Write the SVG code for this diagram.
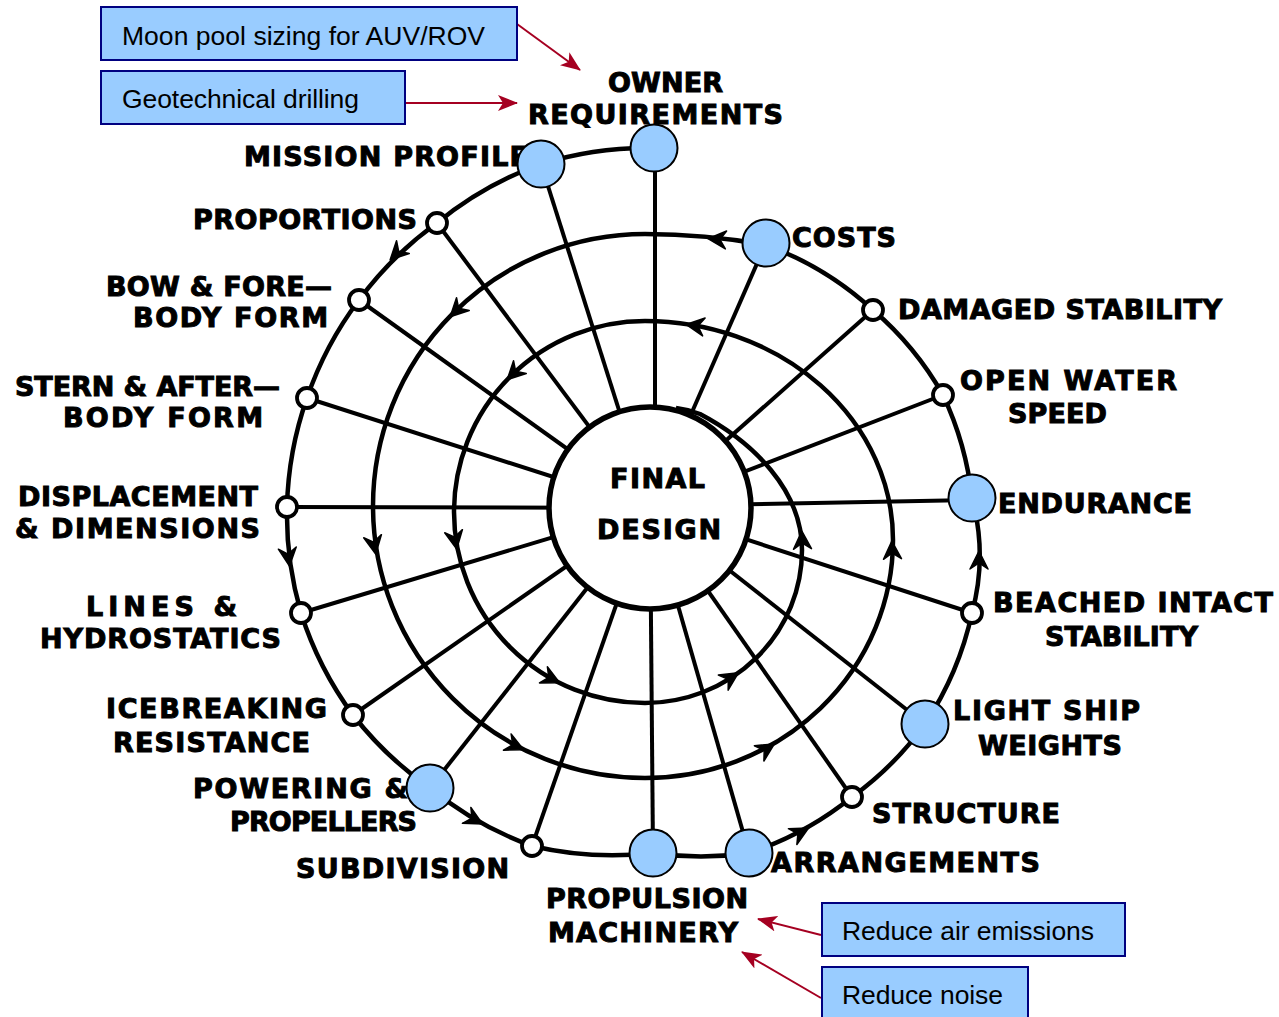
<svg xmlns="http://www.w3.org/2000/svg" xmlns:xlink="http://www.w3.org/1999/xlink" width="1279" height="1017" viewBox="0 0 1279 1017">
<style>
.lbl{font-family:"DejaVu Sans","Liberation Sans",sans-serif;font-weight:bold;font-size:27px;fill:#000;stroke:#000;stroke-width:1;lengthAdjust:spacing}
.co{font-family:"Liberation Sans",Arial,sans-serif;font-size:26.5px;fill:#000}
.box{fill:#99ccff;stroke:#000080;stroke-width:2}
.spoke{stroke:#000;stroke-width:4;fill:none}
.spiral{stroke:#000;stroke-width:4.5;fill:none;stroke-linejoin:round}
.big{fill:#99ccff;stroke:#000;stroke-width:2}
.small{fill:#fff;stroke:#000;stroke-width:3.8}
.red{stroke:#a50021;stroke-width:2;fill:none}
</style>
<defs>
<path id="ah" d="M4,0 L-14,-9 L-8,0 L-14,9 Z" fill="#000" stroke="#000" stroke-width="1.5" stroke-linejoin="round"/>
<marker id="redArrow" markerUnits="userSpaceOnUse" markerWidth="20" markerHeight="16" refX="19" refY="8" orient="auto">
<path d="M0,0 L20,8 L0,16 L5,8 Z" fill="#a50021"/>
</marker>
</defs>
<rect width="1279" height="1017" fill="#fff"/>

<g id="connectors">
<line class="spoke" x1="655" y1="148" x2="655" y2="500"/>
<line class="spoke" x1="541" y1="164" x2="650" y2="508"/>
<line class="spoke" x1="437" y1="223" x2="650" y2="508"/>
<line class="spoke" x1="359" y1="300" x2="650" y2="508"/>
<line class="spoke" x1="307" y1="398" x2="650" y2="508"/>
<line class="spoke" x1="287" y1="507" x2="650" y2="508"/>
<line class="spoke" x1="301" y1="613" x2="650" y2="508"/>
<line class="spoke" x1="353" y1="715" x2="650" y2="508"/>
<line class="spoke" x1="430" y1="788" x2="650" y2="508"/>
<line class="spoke" x1="532" y1="846" x2="650" y2="508"/>
<line class="spoke" x1="653" y1="853" x2="650" y2="508"/>
<line class="spoke" x1="749" y1="853" x2="650" y2="508"/>
<line class="spoke" x1="852" y1="797" x2="650" y2="508"/>
<line class="spoke" x1="925" y1="724" x2="650" y2="508"/>
<line class="spoke" x1="972" y1="613" x2="650" y2="508"/>
<line class="spoke" x1="972" y1="500" x2="650" y2="506"/>
<line class="spoke" x1="943" y1="395" x2="650" y2="508"/>
<line class="spoke" x1="873" y1="310" x2="650" y2="508"/>
<line class="spoke" x1="766" y1="243" x2="650" y2="508"/>
<path class="spiral" d="M654,148 A352,352 0 0 0 541,164 A352,352 0 0 0 437,223 A352,352 0 0 0 359,300 A352,352 0 0 0 307,398 A352,352 0 0 0 287,507 A352,352 0 0 0 301,613 A352,352 0 0 0 353,715 A352,352 0 0 0 430,788 A352,352 0 0 0 532,846 A352,352 0 0 0 653,853 A325,325 0 0 0 749,853 A325,325 0 0 0 852,797 A325,325 0 0 0 925,724 A325,325 0 0 0 972,613 A220,220 0 0 0 972,498 A325,325 0 0 0 943,395 A320,320 0 0 0 873,310 A320,320 0 0 0 766,245 A670,670 0 0 0 645,234 A272,272 0 0 0 373,506 A272,272 0 0 0 645,778 A248,238 0 0 0 893,540 A248,219 0 0 0 645,321 A191,191 0 0 0 454,512 A191,191 0 0 0 645,703 A157,153 0 0 0 802,550 C802,490 753,442 700,414 A103,103 0 0 0 676,408"/>
<use xlink:href="#ah" transform="translate(393,257) rotate(135)"/>
<use xlink:href="#ah" transform="translate(289,562) rotate(83)"/>
<use xlink:href="#ah" transform="translate(479,822) rotate(28)"/>
<use xlink:href="#ah" transform="translate(805,830) rotate(-28)"/>
<use xlink:href="#ah" transform="translate(979,555) rotate(-90)"/>
<use xlink:href="#ah" transform="translate(712,239) rotate(184)"/>
<use xlink:href="#ah" transform="translate(453,314) rotate(135)"/>
<use xlink:href="#ah" transform="translate(375,550) rotate(80)"/>
<use xlink:href="#ah" transform="translate(520,748) rotate(25)"/>
<use xlink:href="#ah" transform="translate(771,746) rotate(-32)"/>
<use xlink:href="#ah" transform="translate(892,545) rotate(-92)"/>
<use xlink:href="#ah" transform="translate(690,325) rotate(188)"/>
<use xlink:href="#ah" transform="translate(510,377) rotate(135)"/>
<use xlink:href="#ah" transform="translate(456,545) rotate(80)"/>
<use xlink:href="#ah" transform="translate(556,681) rotate(26)"/>
<use xlink:href="#ah" transform="translate(735,675) rotate(-33)"/>
<use xlink:href="#ah" transform="translate(802,535) rotate(-92)"/>
<path class="red" d="M517,24 L580,70" marker-end="url(#redArrow)"/>
<path class="red" d="M405,103 L517,103" marker-end="url(#redArrow)"/>
<path class="red" d="M821,935 L758,919" marker-end="url(#redArrow)"/>
<path class="red" d="M821,998 L742,952" marker-end="url(#redArrow)"/>
</g>

<g id="final-design">
<circle cx="650" cy="508" r="101" fill="#fff" stroke="#000" stroke-width="5.5"/>
<text class="lbl" x="610" y="488" textLength="95">FINAL</text>
<text class="lbl" x="597" y="539" textLength="124">DESIGN</text>
</g>

<g id="owner-requirements">
<text class="lbl" x="608" y="92" textLength="115">OWNER</text>
<text class="lbl" x="528" y="124" textLength="255">REQUIREMENTS</text>
<circle class="big" cx="654" cy="148" r="23.5"/>
</g>
<g id="mission-profile">
<text class="lbl" x="244" y="166" textLength="284">MISSION PROFILE</text>
<circle class="big" cx="541" cy="164" r="23.5"/>
</g>
<g id="proportions">
<text class="lbl" x="193" y="229" textLength="224">PROPORTIONS</text>
<circle class="small" cx="437" cy="223" r="10"/>
</g>
<g id="bow-forebody">
<text class="lbl" x="106" y="296" textLength="226">BOW &amp; FORE—</text>
<text class="lbl" x="133" y="327" textLength="195">BODY FORM</text>
<circle class="small" cx="359" cy="300" r="10"/>
</g>
<g id="stern-afterbody">
<text class="lbl" x="15" y="396" textLength="265">STERN &amp; AFTER—</text>
<text class="lbl" x="63" y="427" textLength="200">BODY FORM</text>
<circle class="small" cx="307" cy="398" r="10"/>
</g>
<g id="displacement">
<text class="lbl" x="18" y="506" textLength="240">DISPLACEMENT</text>
<text class="lbl" x="15" y="538" textLength="245">&amp; DIMENSIONS</text>
<circle class="small" cx="287" cy="507" r="10"/>
</g>
<g id="lines-hydrostatics">
<text class="lbl" x="86" y="616" textLength="151">LINES &amp;</text>
<text class="lbl" x="40" y="648" textLength="241">HYDROSTATICS</text>
<circle class="small" cx="301" cy="613" r="10"/>
</g>
<g id="icebreaking">
<text class="lbl" x="106" y="718" textLength="221">ICEBREAKING</text>
<text class="lbl" x="113" y="752" textLength="197">RESISTANCE</text>
<circle class="small" cx="353" cy="715" r="10"/>
</g>
<g id="powering">
<text class="lbl" x="193" y="798" textLength="215">POWERING &amp;</text>
<text class="lbl" x="230" y="831" textLength="187">PROPELLERS</text>
<circle class="big" cx="430" cy="788" r="23.5"/>
</g>
<g id="subdivision">
<text class="lbl" x="296" y="878" textLength="213">SUBDIVISION</text>
<circle class="small" cx="532" cy="846" r="10"/>
</g>
<g id="propulsion">
<text class="lbl" x="546" y="908" textLength="202">PROPULSION</text>
<text class="lbl" x="548" y="942" textLength="190">MACHINERY</text>
<circle class="big" cx="653" cy="853" r="23.5"/>
</g>
<g id="arrangements">
<text class="lbl" x="771" y="872" textLength="269">ARRANGEMENTS</text>
<circle class="big" cx="749" cy="853" r="23.5"/>
</g>
<g id="structure">
<text class="lbl" x="872" y="823" textLength="188">STRUCTURE</text>
<circle class="small" cx="852" cy="797" r="10"/>
</g>
<g id="light-ship">
<text class="lbl" x="953" y="720" textLength="187">LIGHT SHIP</text>
<text class="lbl" x="978" y="755" textLength="144">WEIGHTS</text>
<circle class="big" cx="925" cy="724" r="23.5"/>
</g>
<g id="beached-intact">
<text class="lbl" x="993" y="612" textLength="280">BEACHED INTACT</text>
<text class="lbl" x="1045" y="646" textLength="153">STABILITY</text>
<circle class="small" cx="972" cy="613" r="10"/>
</g>
<g id="endurance">
<text class="lbl" x="998" y="513" textLength="194">ENDURANCE</text>
<circle class="big" cx="972" cy="498" r="23.5"/>
</g>
<g id="open-water">
<text class="lbl" x="960" y="390" textLength="217">OPEN WATER</text>
<text class="lbl" x="1008" y="423" textLength="99">SPEED</text>
<circle class="small" cx="943" cy="395" r="10"/>
</g>
<g id="damaged-stability">
<text class="lbl" x="898" y="319" textLength="324">DAMAGED STABILITY</text>
<circle class="small" cx="873" cy="310" r="10"/>
</g>
<g id="costs">
<text class="lbl" x="792" y="247" textLength="104">COSTS</text>
<circle class="big" cx="766" cy="243" r="23.5"/>
</g>

<g id="callout-moonpool">
<rect class="box" x="101" y="7" width="416" height="53"/>
<text class="co" x="122" y="45" textLength="363">Moon pool sizing for AUV/ROV</text>
</g>
<g id="callout-geotech">
<rect class="box" x="101" y="71" width="304" height="53"/>
<text class="co" x="122" y="108" textLength="237">Geotechnical drilling</text>
</g>
<g id="callout-emissions">
<rect class="box" x="822" y="903" width="303" height="53"/>
<text class="co" x="842" y="940" textLength="252">Reduce air emissions</text>
</g>
<g id="callout-noise">
<rect class="box" x="822" y="967" width="206" height="60"/>
<text class="co" x="842" y="1004" textLength="161">Reduce noise</text>
</g>
</svg>
